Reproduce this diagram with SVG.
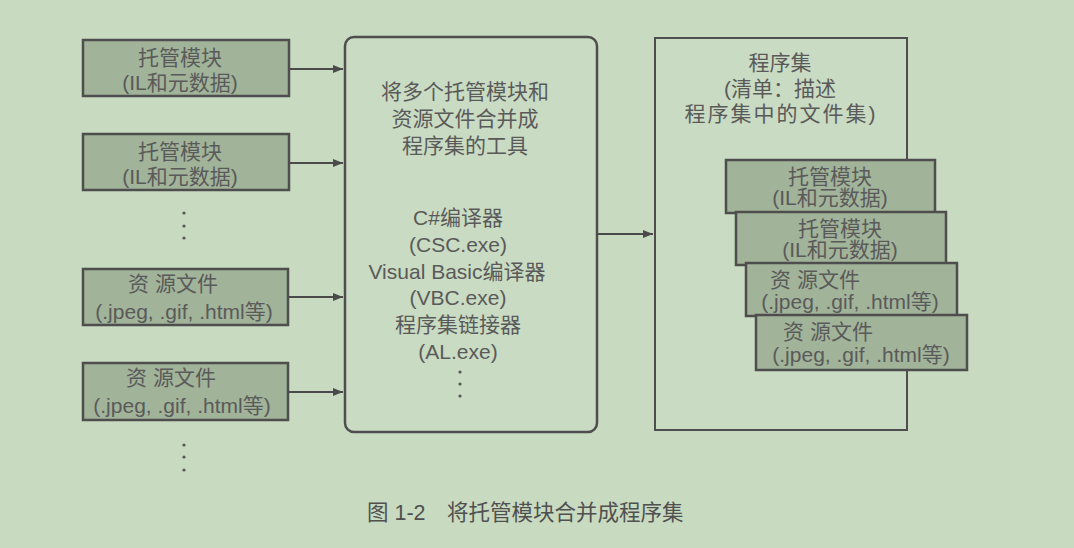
<svg xmlns="http://www.w3.org/2000/svg" width="1074" height="548" viewBox="0 0 1074 548">
<defs>
<style>
.t{font-family:"Liberation Sans","Noto Sans CJK SC",sans-serif;font-size:21px;fill:#5a5a5a;text-anchor:middle}
.box{fill:#a1b399;stroke:#4e4e4e;stroke-width:2.5}
.ln{stroke:#4a4a4a;stroke-width:2;fill:none}
.dot{fill:#555}
</style>
<marker id="ah" viewBox="0 0 10 10" refX="10" refY="5" markerWidth="10" markerHeight="10" markerUnits="userSpaceOnUse" orient="auto">
<path d="M0,1 L10,5 L0,9 Z" fill="#4a4a4a"/>
</marker>
</defs>
<rect x="0" y="0" width="1074" height="548" fill="#c8dac0"/>

<g id="mod1">
<rect class="box" x="83" y="40" width="206" height="56"/>
<text class="t" x="180" y="65">托管模块</text>
<text class="t" x="180" y="90">(IL和元数据)</text>
</g>
<g id="mod2">
<rect class="box" x="83" y="134" width="206" height="56"/>
<text class="t" x="180" y="159">托管模块</text>
<text class="t" x="180" y="184">(IL和元数据)</text>
</g>
<g id="dots1">
<circle class="dot" cx="184" cy="213" r="1.6"/>
<circle class="dot" cx="184" cy="226" r="1.6"/>
<circle class="dot" cx="184" cy="238" r="1.6"/>
</g>
<g id="res1">
<rect class="box" x="83" y="269" width="205" height="56"/>
<text class="t" x="173" y="291">资 源文件</text>
<text class="t" x="184" y="319">(.jpeg, .gif, .html等)</text>
</g>
<g id="res2">
<rect class="box" x="83" y="363" width="205" height="57"/>
<text class="t" x="171" y="385">资 源文件</text>
<text class="t" x="182" y="413">(.jpeg, .gif, .html等)</text>
</g>
<g id="dots2">
<circle class="dot" cx="184" cy="445" r="1.6"/>
<circle class="dot" cx="184" cy="457" r="1.6"/>
<circle class="dot" cx="184" cy="470" r="1.6"/>
</g>

<g id="tool">
<rect x="345" y="37" width="252" height="395" rx="9" fill="#c9dbc2" stroke="#4e4e4e" stroke-width="2.5"/>
<text class="t" x="465" y="99">将多个托管模块和</text>
<text class="t" x="465" y="126">资源文件合并成</text>
<text class="t" x="465" y="153">程序集的工具</text>
<text class="t" x="458" y="225">C#编译器</text>
<text class="t" x="458" y="252">(CSC.exe)</text>
<text class="t" x="457" y="279">Visual Basic编译器</text>
<text class="t" x="458" y="305">(VBC.exe)</text>
<text class="t" x="458" y="332">程序集链接器</text>
<text class="t" x="458" y="359">(AL.exe)</text>
<circle class="dot" cx="460" cy="372" r="1.6"/>
<circle class="dot" cx="460" cy="384" r="1.6"/>
<circle class="dot" cx="460" cy="396" r="1.6"/>
</g>

<g id="assembly">
<rect x="655" y="38" width="252" height="392" fill="#c9dbc2" stroke="#4e4e4e" stroke-width="2"/>
<text class="t" x="780" y="70">程序集</text>
<text class="t" x="780" y="96">(清单：描述</text>
<text class="t" x="781" y="121" letter-spacing="2">程序集中的文件集)</text>
</g>
<g id="amod1">
<rect class="box" x="726" y="160" width="209" height="53"/>
<text class="t" x="830" y="184">托管模块</text>
<text class="t" x="830" y="205">(IL和元数据)</text>
</g>
<g id="amod2">
<rect class="box" x="736" y="212" width="210" height="53"/>
<text class="t" x="840" y="236">托管模块</text>
<text class="t" x="840" y="257">(IL和元数据)</text>
</g>
<g id="ares1">
<rect class="box" x="746" y="263" width="211" height="53"/>
<text class="t" x="815" y="287">资 源文件</text>
<text class="t" x="850" y="309">(.jpeg, .gif, .html等)</text>
</g>
<g id="ares2">
<rect class="box" x="756" y="315" width="211" height="55"/>
<text class="t" x="828" y="339">资 源文件</text>
<text class="t" x="861" y="362">(.jpeg, .gif, .html等)</text>
</g>

<g id="connectors">
<line class="ln" x1="289" y1="69" x2="343" y2="69" marker-end="url(#ah)"/>
<line class="ln" x1="289" y1="163" x2="343" y2="163" marker-end="url(#ah)"/>
<line class="ln" x1="288" y1="297" x2="343" y2="297" marker-end="url(#ah)"/>
<line class="ln" x1="288" y1="392" x2="343" y2="392" marker-end="url(#ah)"/>
<line class="ln" x1="597" y1="234" x2="653" y2="234" marker-end="url(#ah)"/>
</g>

<text x="367" y="520" style="font-family:'Liberation Sans','Noto Sans CJK SC',sans-serif;font-size:21.5px;fill:#505050">图 1-2<tspan x="447">将托管模块合并成程序集</tspan></text>
</svg>
